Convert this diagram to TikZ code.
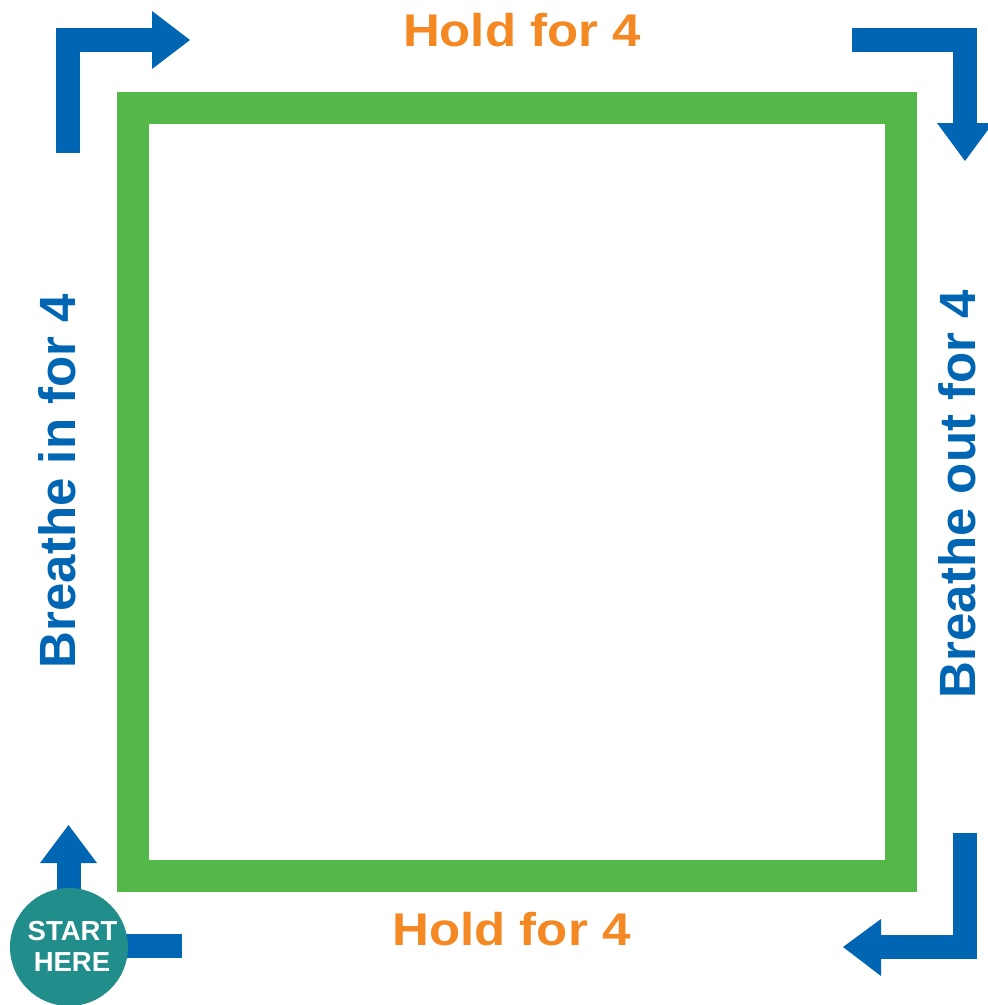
\documentclass[tikz,border=0pt]{standalone}
\usepackage{fontspec}
\setmainfont{Liberation Sans}
\usepackage{graphicx}
\definecolor{boxblue}{RGB}{0,102,179}
\definecolor{boxgreen}{RGB}{83,184,72}
\definecolor{boxorange}{RGB}{244,137,36}
\definecolor{boxteal}{RGB}{33,142,139}
\begin{document}
\begin{tikzpicture}[x=1pt,y=-1pt,
  bar/.style={draw=boxblue,line width=24pt,line join=miter},
  head/.style={fill=boxblue},
  label/.style={inner sep=0pt,anchor=base,font=\bfseries\fontsize{51}{51}\selectfont},
  holdlbl/.style={label,text=boxorange},
  breathlbl/.style={label,text=boxblue,rotate=90}]
\useasboundingbox (0,0) rectangle (988,1005);
% green box
\draw[boxgreen,line width=32pt,line join=miter] (133,108) rectangle (901,876);
% top-left arrow
\coordinate (a1) at (68,153);
\coordinate (a2) at (68,40);
\coordinate (a3) at (152,40);
\draw[bar] (a1) -- (a2) -- (a3);
\fill[head] (152,11) -- (190,40) -- (152,69) -- cycle;
% top-right arrow
\coordinate (b1) at (852,40);
\coordinate (b2) at (965,40);
\coordinate (b3) at (965,123);
\draw[bar] (b1) -- (b2) -- (b3);
\fill[head] (937,123) -- (965,161) -- (993,123) -- cycle;
% bottom-right arrow
\coordinate (c1) at (965,833);
\coordinate (c2) at (965,947);
\coordinate (c3) at (881,947);
\draw[bar] (c1) -- (c2) -- (c3);
\fill[head] (881,919) -- (843,947) -- (881,976) -- cycle;
% bottom-left arrows
\coordinate (d1) at (68.5,920);
\coordinate (d2) at (68.5,863);
\draw[bar] (d1) -- (d2);
\fill[head] (40,863) -- (68.5,825) -- (97,863) -- cycle;
\coordinate (e1) at (100,946);
\coordinate (e2) at (182,946);
\draw[bar] (e1) -- (e2);
% start circle
\node[circle,fill=boxteal,minimum size=118pt,inner sep=0pt] (start) at (69,947) {};
\node[inner sep=0pt,anchor=base,text=white,font=\bfseries\fontsize{27.5}{31}\selectfont] (st1) at (72.5,940) {START};
\node[inner sep=0pt,anchor=base,text=white,font=\bfseries\fontsize{27.5}{31}\selectfont] (st2) at (72,971) {HERE};
% labels
\node[holdlbl] (holdtop) at (522,46.5) {\scalebox{1}[0.9]{Hold for 4}};
\node[holdlbl] (holdbot) at (511.5,945) {\scalebox{1}[0.9]{Hold for 4}};
\node[breathlbl] (inlbl) at (75,481) {Breathe in for 4};
\node[breathlbl] (outlbl) at (975,494) {Breathe out for 4};
\end{tikzpicture}
\end{document}
